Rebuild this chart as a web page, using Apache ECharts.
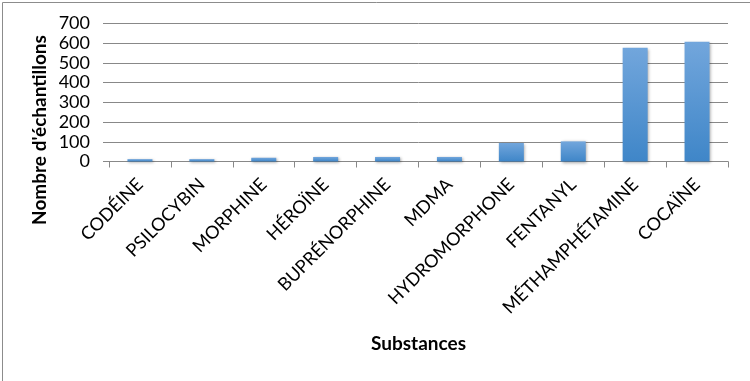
<!DOCTYPE html>
<html>
<head>
<meta charset="utf-8">
<script src="https://cdn.jsdelivr.net/npm/echarts@6/dist/echarts.min.js"></script>
<style>
html,body{margin:0;padding:0;background:#fff;}
#c{width:750px;height:381px;}
</style>
</head>
<body>
<div id="c"></div>
<script>
const categories = ['CODÉINE','PSILOCYBIN','MORPHINE','HÉROÏNE','BUPRÉNORPHINE','MDMA','HYDROMORPHONE','FENTANYL','MÉTHAMPHÉTAMINE','COCAÏNE'];
const values = [12, 12, 19, 23, 23, 23, 94, 102, 577, 607];
const yTicks = {min: 0, max: 700, interval: 100};
const yTitle = "Nombre d'échantillons";
const xTitle = 'Substances';

const chart = echarts.init(document.getElementById('c'));
const font = 'Lato, "Open Sans", sans-serif';
chart.setOption({
  animation: false,
  graphic: [{
    type: 'rect', left: 0, top: 0,
    shape: {x: 0.5, y: 0.5, width: 749, height: 380},
    style: {fill: 'none', stroke: '#8c8c8c', lineWidth: 1}, silent: true, z: -1
  }, {
    type: 'text', x: 40, y: 130, rotation: Math.PI / 2,
    style: {text: yTitle, font: 'bold 19px ' + font, fill: '#000', align: 'center', verticalAlign: 'middle'},
    silent: true
  }],
  grid: {left: 109, right: 22, top: 23.5, bottom: 219.5, containLabel: false},
  xAxis: {
    type: 'category',
    data: categories,
    name: xTitle,
    nameLocation: 'middle',
    nameGap: 173,
    nameTextStyle: {fontFamily: font, fontSize: 19, fontWeight: 'bold', color: '#000'},
    axisLine: {show: true, lineStyle: {color: '#888', width: 1}},
    axisTick: {show: true, length: 6, alignWithLabel: false, lineStyle: {color: '#888'}},
    axisLabel: {interval: 0, rotate: 45, margin: 20, fontFamily: font, fontSize: 18, color: '#000'}
  },
  yAxis: {
    type: 'value',
    min: yTicks.min, max: yTicks.max, interval: yTicks.interval,
    axisLine: {show: false},
    axisTick: {show: true, length: 6, lineStyle: {color: '#888'}},
    splitLine: {show: true, lineStyle: {color: '#888', width: 1}},
    axisLabel: {margin: 19, fontFamily: font, fontSize: 18, lineHeight: 16, color: '#000',
      hideOverlap: false, showMinLabel: true, showMaxLabel: true}
  },
  series: [{
    type: 'bar',
    data: values,
    barWidth: 25,
    itemStyle: {
      color: new echarts.graphic.LinearGradient(0, 0, 0, 1, [
        {offset: 0, color: '#72a6dc'},
        {offset: 1, color: '#3f86c8'}
      ]),
      shadowColor: 'rgba(0,0,0,0.35)', shadowBlur: 3, shadowOffsetX: 1, shadowOffsetY: 1
    }
  }]
});
</script>
</body>
</html>
